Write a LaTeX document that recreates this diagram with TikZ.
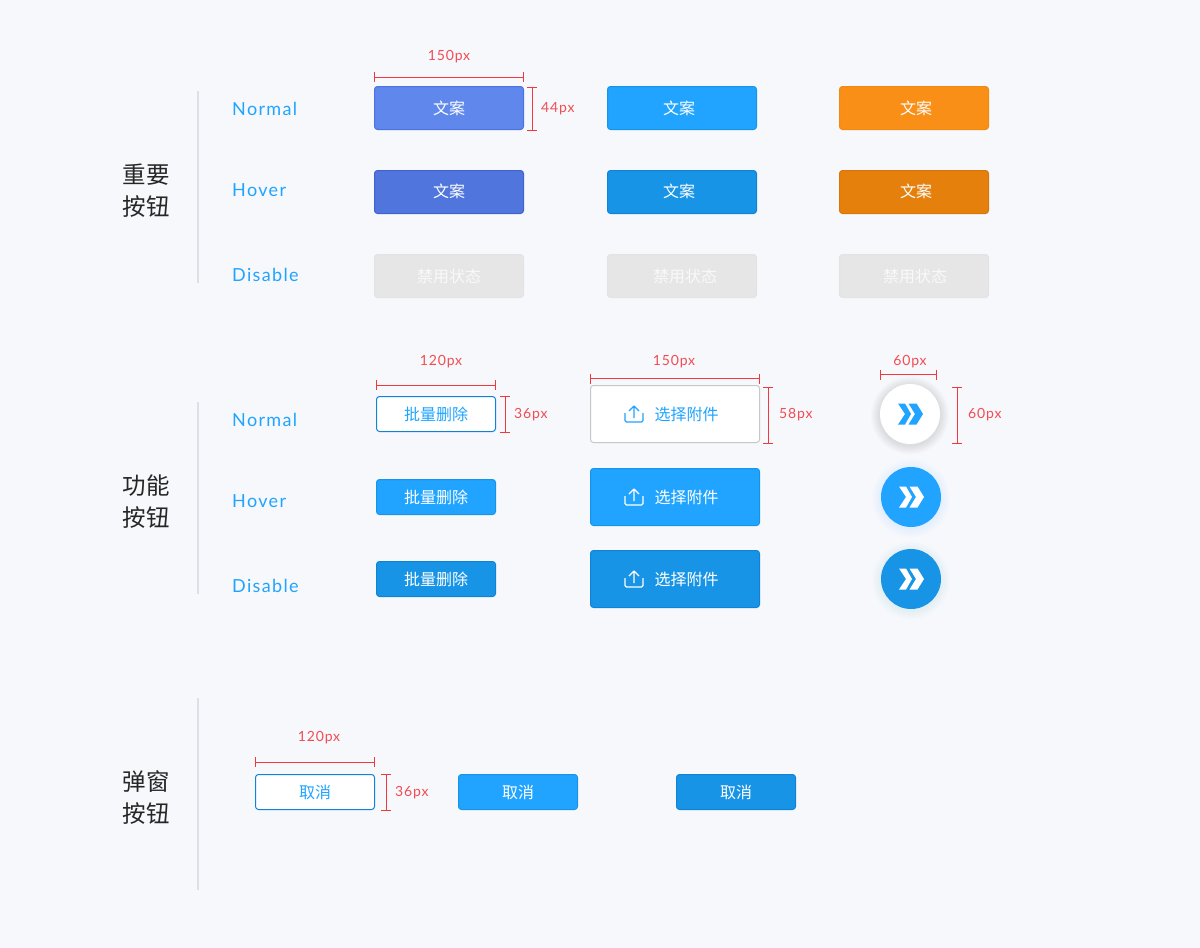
\documentclass[tikz,border=0pt]{standalone}
\usepackage{fontspec}
\usetikzlibrary{arrows.meta}
\setmainfont{Noto Sans CJK SC}
\newfontfamily\lab[LetterSpace=7.5]{Lato}
\newfontfamily\dimf[LetterSpace=6]{Lato}
\definecolor{bgc}{HTML}{F6F8FC}
\definecolor{blu}{HTML}{20A4FF}
\definecolor{bluD}{HTML}{1894E6}
\definecolor{bluE}{HTML}{0F84D6}
\definecolor{ind}{HTML}{5F87EC}
\definecolor{indE}{HTML}{4A72E0}
\definecolor{indD}{HTML}{5076DE}
\definecolor{indDE}{HTML}{3E63CC}
\definecolor{org}{HTML}{F98F17}
\definecolor{orgE}{HTML}{F08A10}
\definecolor{orgD}{HTML}{E5800D}
\definecolor{orgDE}{HTML}{D8760A}
\definecolor{dis}{HTML}{E6E6E6}
\definecolor{disE}{HTML}{E3E3E3}
\definecolor{redd}{HTML}{F0393F}
\definecolor{rul}{HTML}{DDE0E6}
\tikzset{
  x=1pt,y=-1pt,
  btnbase/.style={rounded corners=3pt,line width=1pt,inner sep=0pt,outer sep=0pt},
  sec/.style={font=\fontsize{23.5}{23.5}\selectfont,text=black!85,inner sep=0pt,yshift=-0.7pt},
  state/.style={font=\fontsize{18}{18}\selectfont\lab,text=blu,anchor=west,inner sep=0pt,yshift=-0.5pt},
  dimt/.style={font=\fontsize{14}{14}\selectfont\dimf,text=redd!90,inner sep=0pt,yshift=-2pt},
  dimline/.style={draw=redd,line width=0.85pt},
  rulel/.style={draw=rul,line width=1.2pt},
  lbl/.style={inner sep=0pt,font=\fontsize{16}{16}\selectfont,text=#1,yshift=-0.5pt},
}
% \btn{name}{cx}{cy}{w}{h}{draw}{fill}{tx}{ty}{textcolor}{text}
\newcommand{\btn}[9]{\def\bName{#1}\def\bX{#2}\def\bY{#3}\def\bW{#4}\def\bH{#5}\def\bD{#6}\def\bF{#7}\def\bTx{#8}\def\bTy{#9}\btnrest}
\newcommand{\btnrest}[2]{%
  \node[btnbase,draw=\bD,fill=\bF,minimum width=\bW pt,minimum height=\bH pt] (\bName) at (\bX,\bY) {};
  \node[lbl=#1] (\bName t) at (\bTx,\bTy) {#2};}
\newcommand{\chev}[3]{% cx cy colour
  \fill[#3] (#1-12,#2-10.5) -- (#1-5,#2-10.5) -- (#1+1,#2) -- (#1-5,#2+10.5) -- (#1-12,#2+10.5) -- (#1-5,#2) -- cycle;
  \fill[#3] (#1-1.5,#2-10.5) -- (#1+6.5,#2-10.5) -- (#1+13,#2) -- (#1+6.5,#2+10.5) -- (#1-1.5,#2+10.5) -- (#1+5,#2) -- cycle;}
\newcommand{\upic}[3]{% cx cy colour
  \draw[#3,line width=1.3pt,rounded corners=1.5pt] (#1-9,#2-1) -- (#1-9,#2+8) -- (#1+9,#2+8) -- (#1+9,#2-1);
  \draw[#3,line width=1.3pt,line join=round] (#1,#2+4) -- (#1,#2-8) (#1-5,#2-3) -- (#1,#2-8) -- (#1+5,#2-3);}
\newcommand{\softshadow}[5]{% cx cy r colour opacity
  \foreach \k in {1,...,9}{\fill[#4,opacity=#5] (#1,#2+1.5) circle ({#3+10-\k});}}
% dimension line between two named coordinates, with end ticks
\newcommand{\dimH}[2]{\draw[dimline] (#1) -- (#2);
  \draw[dimline] ([yshift=5pt]#1) -- ([yshift=-5pt]#1);
  \draw[dimline] ([yshift=5pt]#2) -- ([yshift=-5pt]#2);}
\newcommand{\dimV}[2]{\draw[dimline] (#1) -- (#2);
  \draw[dimline] ([xshift=-5pt]#1) -- ([xshift=5pt]#1);
  \draw[dimline] ([xshift=-5pt]#2) -- ([xshift=5pt]#2);}
\begin{document}
\begin{tikzpicture}
\useasboundingbox[fill=bgc] (0,0) rectangle (1200,948);

% section labels and rules
\node[sec] (s1a) at (146,174) {重要};
\node[sec] (s1b) at (146,206) {按钮};
\node[sec] (s2a) at (146,485) {功能};
\node[sec] (s2b) at (146,517) {按钮};
\node[sec] (s3a) at (146,781) {弹窗};
\node[sec] (s3b) at (146,813) {按钮};
\coordinate (r1a) at (198,91); \coordinate (r1b) at (198,283);
\coordinate (r2a) at (198,402); \coordinate (r2b) at (198,594);
\coordinate (r3a) at (198,698); \coordinate (r3b) at (198,890);
\draw[rulel] (r1a) -- (r1b);
\draw[rulel] (r2a) -- (r2b);
\draw[rulel] (r3a) -- (r3b);

% state labels
\node[state] (n1) at (232,108) {Normal};
\node[state] (h1) at (232,190) {Hover};
\node[state] (d1) at (232,274) {Disable};
\node[state] (n2) at (232,419) {Normal};
\node[state] (h2) at (232,501) {Hover};
\node[state] (d2) at (232,585) {Disable};

% important buttons
\btn{a1}{449}{108}{149}{43}{indE}{ind}{449}{108}{white}{文案}
\btn{b1}{682}{108}{149}{43}{bluD}{blu}{679}{108}{white}{文案}
\btn{c1}{914}{108}{149}{43}{orgE}{org}{916}{108}{white}{文案}
\btn{a2}{449}{192}{149}{43}{indDE}{indD}{449}{191}{white}{文案}
\btn{b2}{682}{192}{149}{43}{bluE}{bluD}{679}{191}{white}{文案}
\btn{c2}{914}{192}{149}{43}{orgDE}{orgD}{916}{191}{white}{文案}
\btn{a3}{449}{276}{149}{43}{disE}{dis}{449}{276}{white!75!dis}{禁用状态}
\btn{b3}{682}{276}{149}{43}{disE}{dis}{685}{276}{white!75!dis}{禁用状态}
\btn{c3}{914}{276}{149}{43}{disE}{dis}{915}{276}{white!75!dis}{禁用状态}

% function buttons, column 1
\btn{f1}{436}{414}{119}{35}{bluE}{white}{436}{414}{blu}{批量删除}
\btn{f2}{436}{497}{119}{35}{bluD}{blu}{436}{497}{white}{批量删除}
\btn{f3}{436}{579}{119}{35}{bluE}{bluD}{436}{579}{white}{批量删除}

% function buttons, column 2
\btn{g1}{675}{414}{169}{57}{black!22}{white}{686.5}{414}{blu}{选择附件}
\btn{g2}{675}{497}{169}{57}{bluD}{blu}{686.5}{497}{white}{选择附件}
\btn{g3}{675}{579}{169}{57}{bluE}{bluD}{686.5}{579}{white}{选择附件}
\upic{634}{414}{blu}
\upic{634}{497}{white}
\upic{634}{579}{white}

% round buttons
\softshadow{910}{414}{30}{black}{0.012}
\softshadow{911}{497}{30}{blu}{0.008}
\softshadow{911}{579}{30}{bluD}{0.008}
\node[circle,fill=white,minimum size=60pt,inner sep=0pt,outer sep=0pt] (k1) at (910,414) {};
\node[circle,fill=blu,minimum size=60pt,inner sep=0pt,outer sep=0pt] (k2) at (911,497) {};
\node[circle,fill=bluD,minimum size=60pt,inner sep=0pt,outer sep=0pt] (k3) at (911,579) {};
\chev{910}{414}{blu}
\chev{911}{497}{white}
\chev{911}{579}{white}

% dialog buttons
\btn{p1}{315}{792}{119}{35}{bluE}{white}{315}{792}{blu}{取消}
\btn{p2}{518}{792}{119}{35}{bluD}{blu}{518}{792}{white}{取消}
\btn{p3}{736}{792}{119}{35}{bluE}{bluD}{736}{792}{white}{取消}

% dimension lines
\coordinate (d1a) at (374.5,77); \coordinate (d1b) at (523.5,77);
\dimH{d1a}{d1b}
\node[dimt] (t1) at (449,55) {150px};
\coordinate (d2a) at (532,87); \coordinate (d2b) at (532,130);
\dimV{d2a}{d2b}
\node[dimt,anchor=west] (t2) at (541,107) {44px};
\coordinate (d3a) at (376.5,385); \coordinate (d3b) at (495.5,385);
\dimH{d3a}{d3b}
\node[dimt] (t3) at (441,360) {120px};
\coordinate (d4a) at (505,396); \coordinate (d4b) at (505,432);
\dimV{d4a}{d4b}
\node[dimt,anchor=west] (t4) at (514,413) {36px};
\coordinate (d5a) at (590.5,378.5); \coordinate (d5b) at (759.5,378.5);
\dimH{d5a}{d5b}
\node[dimt] (t5) at (674,360) {150px};
\coordinate (d6a) at (768,387); \coordinate (d6b) at (768,443);
\dimV{d6a}{d6b}
\node[dimt,anchor=west] (t6) at (779,413) {58px};
\coordinate (d7a) at (880.5,374.5); \coordinate (d7b) at (936.5,374.5);
\dimH{d7a}{d7b}
\node[dimt] (t7) at (910,360) {60px};
\coordinate (d8a) at (957,387); \coordinate (d8b) at (957,443);
\dimV{d8a}{d8b}
\node[dimt,anchor=west] (t8) at (968,413) {60px};
\coordinate (d9a) at (255.5,762); \coordinate (d9b) at (374.5,762);
\dimH{d9a}{d9b}
\node[dimt] (t9) at (319,736) {120px};
\coordinate (d10a) at (386,774); \coordinate (d10b) at (386,810);
\dimV{d10a}{d10b}
\node[dimt,anchor=west] (t10) at (395,791) {36px};
\end{tikzpicture}
\end{document}
